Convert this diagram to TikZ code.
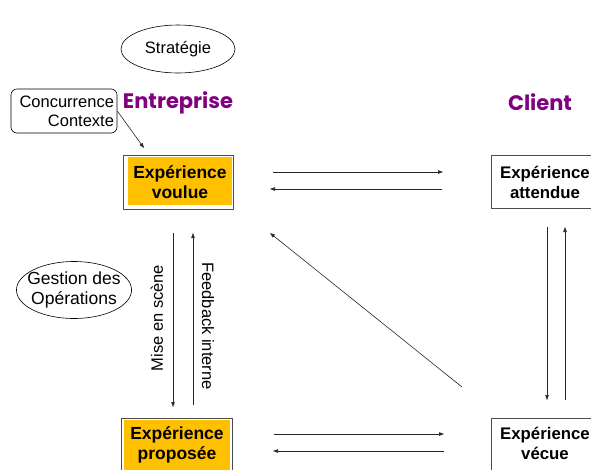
\documentclass[tikz,border=0pt]{standalone}
\usepackage{fontspec}
\setmainfont{Liberation Sans}
\newfontfamily\titlefont{Poppins}
\usetikzlibrary{arrows.meta,shapes.geometric}
\definecolor{purp}{RGB}{128,0,128}
\definecolor{orng}{RGB}{255,192,0}
\begin{document}
\begin{tikzpicture}[x=1pt,y=-1pt,
  txt/.style={font=\fontsize{16.5}{19}\selectfont, inner sep=0pt},
  boldtxt/.style={font=\fontsize{17.5}{20}\selectfont\bfseries, align=center, inner sep=0pt},
  boldtxtr/.style={font=\fontsize{16.8}{20}\selectfont\bfseries, align=center, inner sep=0pt},
  ttl/.style={font=\fontsize{21}{23}\selectfont\titlefont\bfseries, text=purp, inner sep=0pt},
  arr/.style={-{Triangle[length=5pt,width=3.5pt]}, line width=0.6pt, draw=black!85},
  frame/.style={draw=black!70, line width=0.6pt},
  ell/.style={ellipse, draw, line width=0.6pt, align=center, inner sep=-6pt}
]
\useasboundingbox (0,0) rectangle (591,469);

% ellipses
\node[ell, font=\fontsize{16.5}{19}\selectfont, minimum width=114pt, minimum height=48pt] (strat) at (178,49) {Stratégie};
\node[ell, font=\fontsize{17.5}{20}\selectfont, minimum width=114pt, minimum height=57pt] (gest) at (74,290) {Gestion des\\Opérations};

% concurrence box
\node[draw, rounded corners=6pt, line width=0.6pt, minimum width=106pt, minimum height=44pt,
      text width=100pt, align=right, inner xsep=1pt, font=\fontsize{16.5}{19}\selectfont] (conc) at (64,111) {Concurrence\\Contexte};

% titles
\node[ttl] (entr) at (178,103) {Entreprise};
\node[ttl] (cli) at (540,102) {Client};

% Experience voulue
\draw[frame] (123,155) rectangle (233,209);
\fill[orng] (128,157) rectangle (232.4,205);
\node[boldtxt] (voulue) at (180,182) {Expérience\\voulue};

% Experience attendue
\draw[frame] (491,155) rectangle (600,208);
\node[boldtxtr] (attendue) at (545,182) {Expérience\\attendue};

% Experience proposee
\draw[frame] (121,418) rectangle (232,480);
\fill[orng] (124,419.5) rectangle (230,480);
\node[boldtxt] (proposee) at (177,445) {Expérience\\proposée};

% Experience vecue
\draw[frame] (491,418) rectangle (600,480);
\node[boldtxtr] (vecue) at (545,443) {Expérience\\vécue};

% coordinates for connectors
\coordinate (c1) at (144,148);
\coordinate (h1a) at (273,172); \coordinate (h1b) at (443,172);
\coordinate (h2a) at (442,189); \coordinate (h2b) at (270,189);
\coordinate (h3a) at (274,434); \coordinate (h3b) at (444,434);
\coordinate (h4a) at (444,451); \coordinate (h4b) at (273,451);
\coordinate (v1a) at (173,233); \coordinate (v1b) at (173,407);
\coordinate (v2a) at (193,405); \coordinate (v2b) at (193,233);
\coordinate (v3a) at (547,227); \coordinate (v3b) at (547,400);
\coordinate (v4a) at (565,400); \coordinate (v4b) at (565,227);
\coordinate (d1a) at (462,387); \coordinate (d1b) at (270,233);

\draw[arr] (conc.east) -- (c1);
\draw[arr] (h1a) -- (h1b);
\draw[arr] (h2a) -- (h2b);
\draw[arr] (h3a) -- (h3b);
\draw[arr] (h4a) -- (h4b);
\draw[arr] (v1a) -- (v1b);
\draw[arr] (v2a) -- (v2b);
\draw[arr] (v3a) -- (v3b);
\draw[arr] (v4a) -- (v4b);
\draw[arr] (d1a) -- (d1b);

% vertical labels
\node[txt, rotate=90] (mise) at (157,318) {Mise en scène};
\node[txt, rotate=-90] (feed) at (208,326) {Feedback interne};
\end{tikzpicture}
\end{document}
